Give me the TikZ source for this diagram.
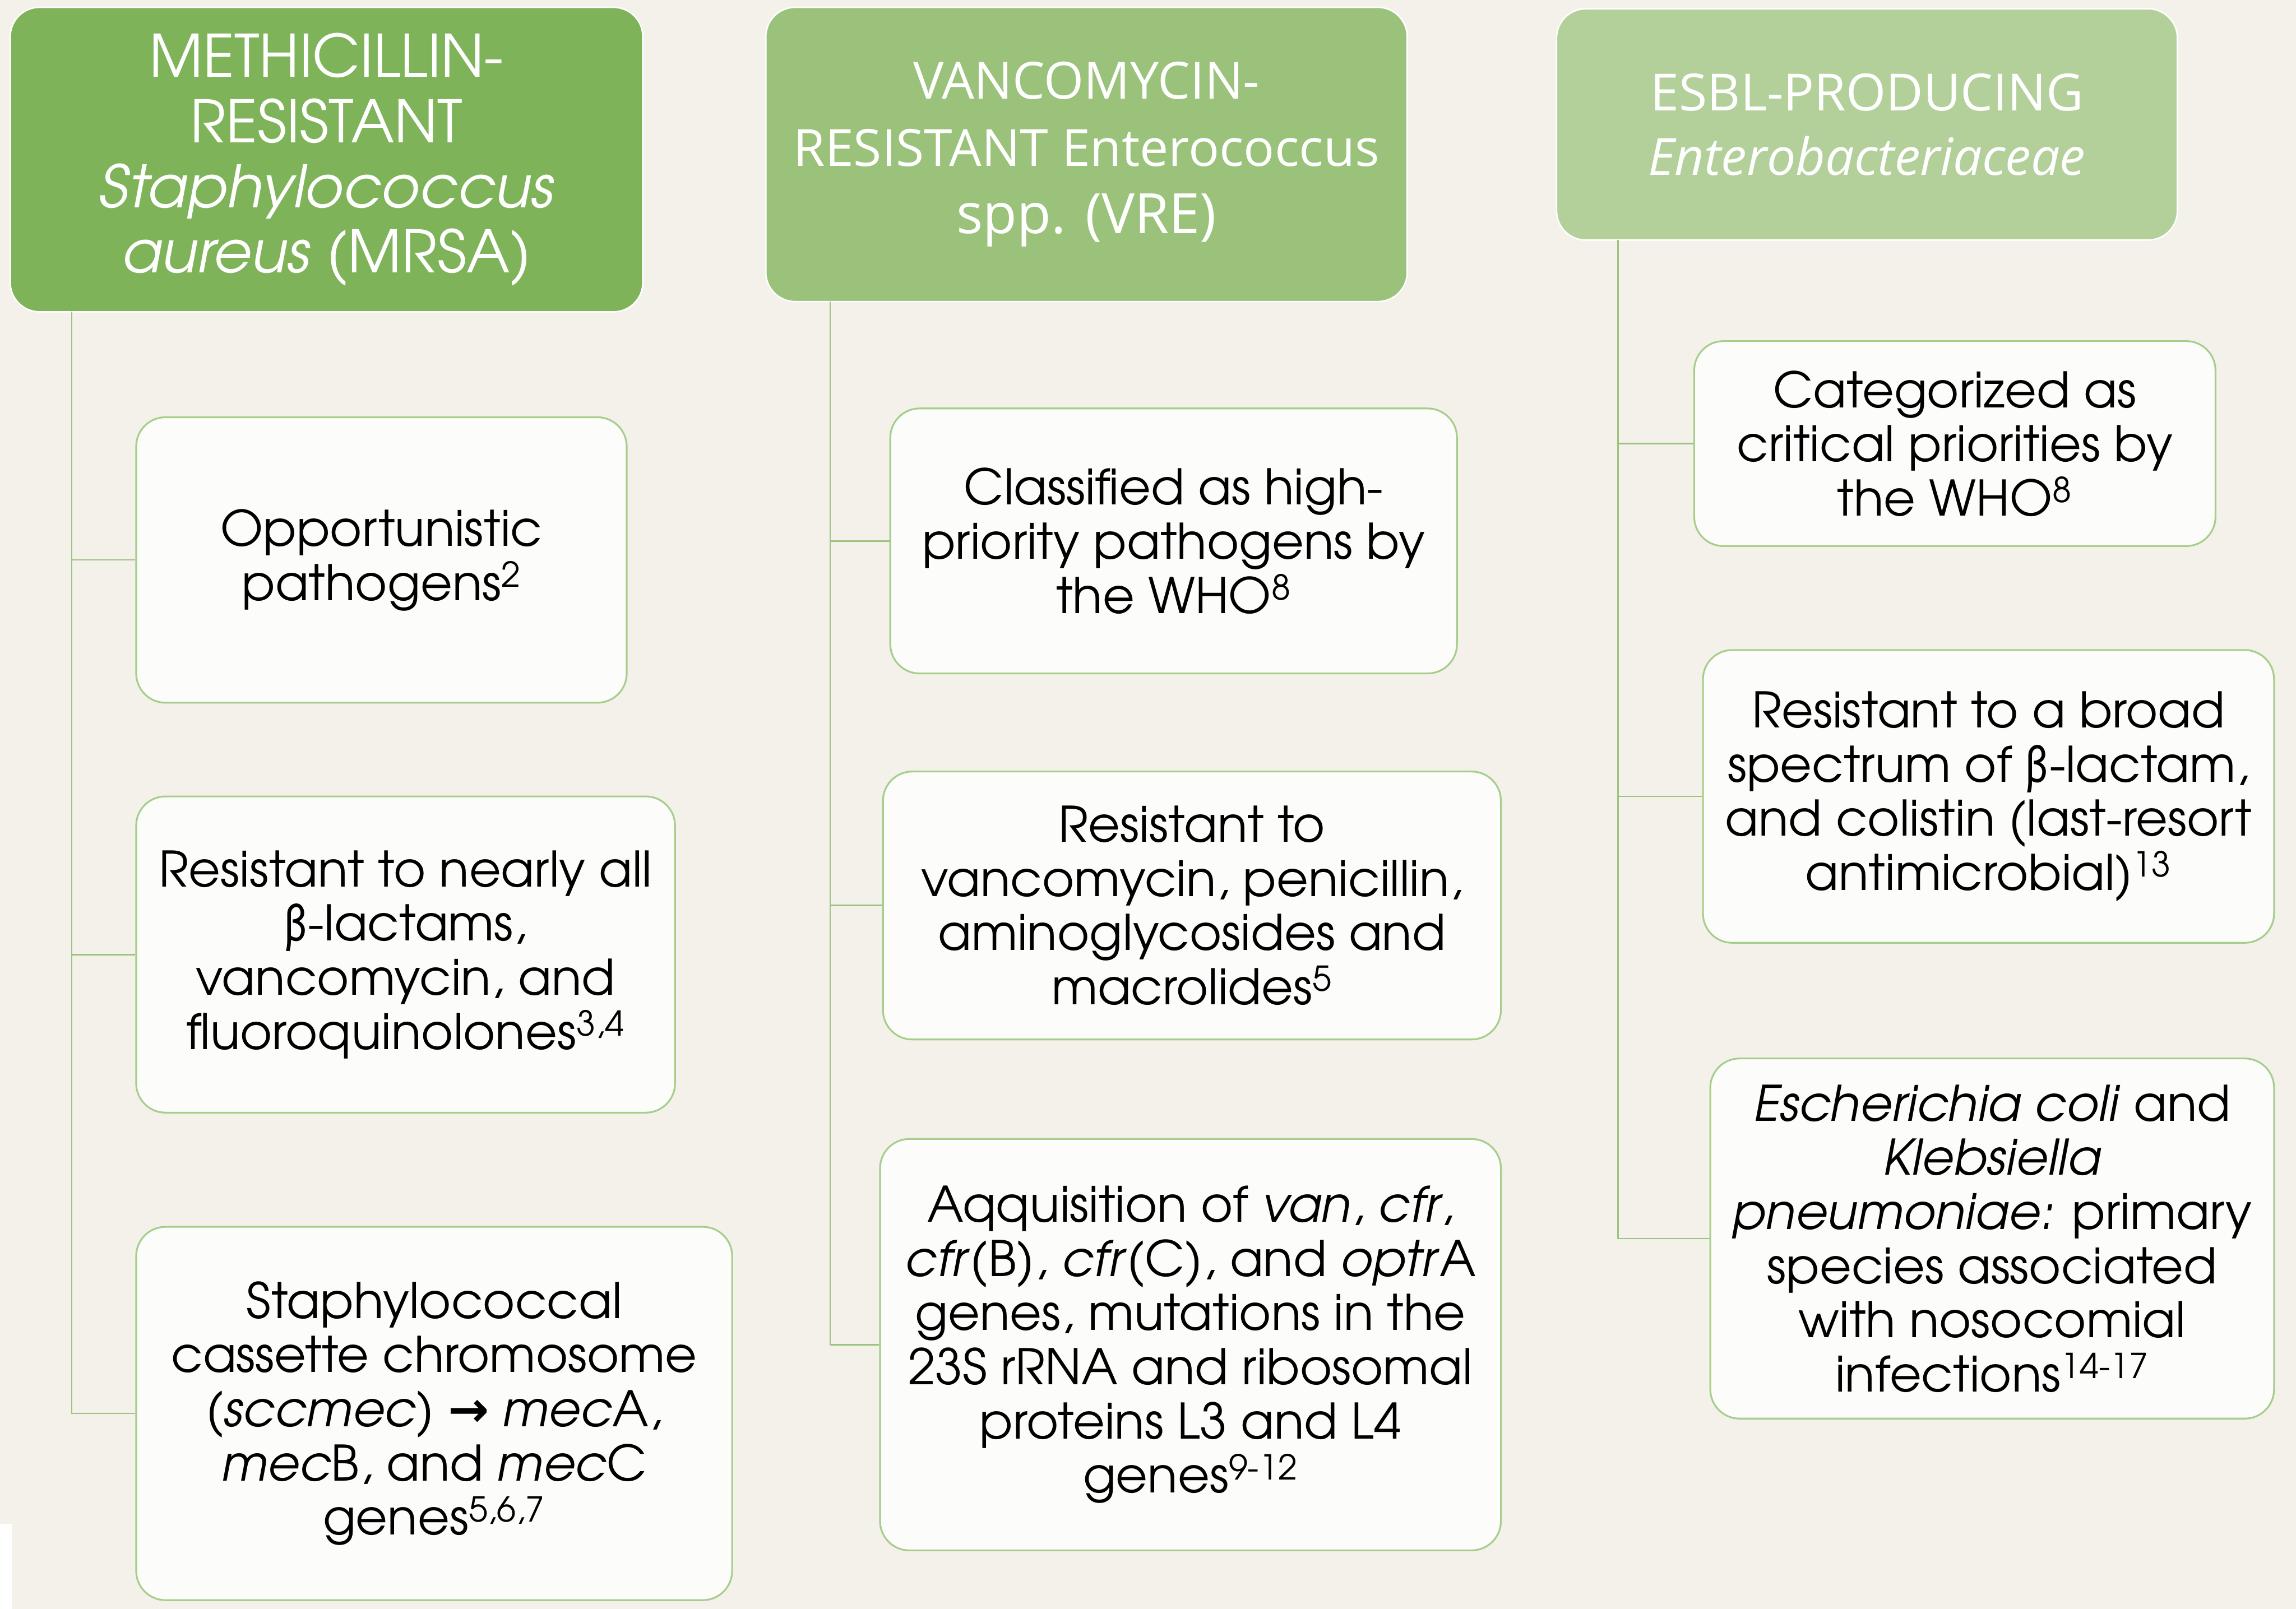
\documentclass[tikz,border=0pt]{standalone}
\usepackage{fontspec}
\setmainfont{TeX Gyre Adventor}
\newfontfamily\hdfont{Open Sans}
\newfontfamily\arrowfont{DejaVu Sans}
\definecolor{bgc}{HTML}{F3F1EA}
\definecolor{hone}{HTML}{7EB35A}
\definecolor{htwo}{HTML}{9AC27B}
\definecolor{hthree}{HTML}{B3D09A}
\definecolor{boxline}{HTML}{A6CE8A}
\definecolor{conn}{HTML}{9CC481}
\definecolor{boxfill}{HTML}{FCFCFA}
\begin{document}
\begin{tikzpicture}[x=1pt,y=-1pt,
  head/.style={draw=white,line width=1pt,rounded corners=20pt,inner sep=0pt,align=center,text=white},
  child/.style={draw=boxline,fill=boxfill,line width=1.2pt,rounded corners=20pt,inner sep=0pt,align=center,text=black,
     font=\fontsize{33.5}{37}\selectfont},
  link/.style={draw=conn,line width=1pt}]
\fill[bgc] (0,0) rectangle (1568,1099);
\useasboundingbox (0,0) rectangle (1568,1099);
\fill[white] (0,1041) rectangle (8,1099);
% headers
\node[head,fill=hone,minimum width=432,minimum height=208,font=\fontsize{40}{44.5}\selectfont] (h1) at (223,109)
 {METHICILLIN-\\RESISTANT\\\textit{Staphylococcus}\\\textit{aureus} (MRSA)};
\node[head,fill=htwo,minimum width=438,minimum height=201,font=\hdfont\fontsize{35}{46}\selectfont] (h2) at (742,105.5)
 {VANCOMYCIN-\\RESISTANT Enterococcus\\{\fontsize{38}{46}\selectfont spp. (VRE)}};
\node[head,fill=hthree,minimum width=424,minimum height=158,font=\hdfont\fontsize{35}{44}\selectfont] (h3) at (1275,85)
 {ESBL-PRODUCING\\\textit{Enterobacteriaceae}};
% column 1
\node[child,minimum width=335,minimum height=195] (c1a) at (260.5,382.5)
 {Opportunistic\\pathogens\textsuperscript{2}};
\node[child,minimum width=368,minimum height=216] (c1b) at (277,652)
 {Resistant to nearly all\\β-lactams,\\vancomycin, and\\fluoroquinolones\textsuperscript{3,4}};
\node[child,minimum width=407,minimum height=255] (c1c) at (296.5,965.5)
 {Staphylococcal\\cassette chromosome\\(\textit{sccmec}) {\arrowfont\bfseries →} \textit{mec}A,\\\textit{mec}B, and \textit{mec}C\\genes\textsuperscript{5,6,7}};
% column 2
\node[child,minimum width=387,minimum height=181] (c2a) at (801.5,369.5)
 {Classified as high-\\priority pathogens by\\the WHO\textsuperscript{8}};
\node[child,minimum width=422,minimum height=183] (c2b) at (814,618.5)
 {Resistant to\\vancomycin, penicillin,\\aminoglycosides and\\macrolides\textsuperscript{5}};
\node[child,minimum width=424,minimum height=281] (c2c) at (813,918.5)
 {Aqquisition of \textit{van}, \textit{cfr},\\\textit{cfr}(B), \textit{cfr}(C), and \textit{optr}A\\genes, mutations in the\\23S rRNA and ribosomal\\proteins L3 and L4\\genes\textsuperscript{9-12}};
% column 3
\node[child,minimum width=356,minimum height=140] (c3a) at (1335,303)
 {Categorized as\\critical priorities by\\the WHO\textsuperscript{8}};
\node[child,minimum width=390,minimum height=200] (c3b) at (1358,544)
 {Resistant to a broad\\spectrum of β-lactam,\\and colistin (last-resort\\antimicrobial)\textsuperscript{13}};
\node[child,minimum width=385,minimum height=246] (c3c) at (1360.5,846)
 {\textit{Escherichia coli} and\\\textit{Klebsiella}\\\textit{pneumoniae:} primary\\species associated\\with nosocomial\\infections\textsuperscript{14-17}};
% connectors
\coordinate (s1) at (49,213);
\coordinate (s2) at (567,206);
\coordinate (s3) at (1105,164);
\draw[link] (s1) |- (c1c.west);
\draw[link] (c1a.west -| s1) -- (c1a.west);
\draw[link] (c1b.west -| s1) -- (c1b.west);
\draw[link] (s2) |- (c2c.west);
\draw[link] (c2a.west -| s2) -- (c2a.west);
\draw[link] (c2b.west -| s2) -- (c2b.west);
\draw[link] (s3) |- (c3c.west);
\draw[link] (c3a.west -| s3) -- (c3a.west);
\draw[link] (c3b.west -| s3) -- (c3b.west);
\end{tikzpicture}
\end{document}
